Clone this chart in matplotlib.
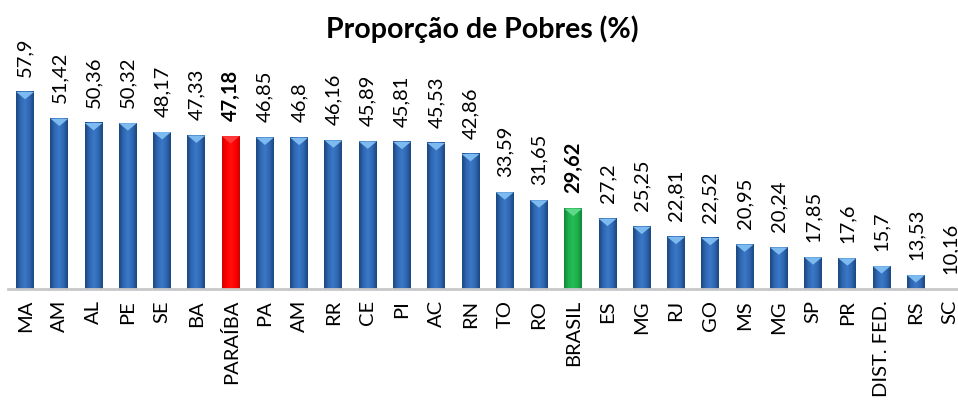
import numpy as np
import matplotlib
matplotlib.use('Agg')
import matplotlib.pyplot as plt
from matplotlib.colors import LinearSegmentedColormap
from matplotlib.patches import Polygon

plt.rcParams['font.family'] = ['Lato', 'DejaVu Sans']

estados = ['MA', 'AM', 'AL', 'PE', 'SE', 'BA', 'PARAÍBA', 'PA', 'AM', 'RR', 'CE', 'PI', 'AC', 'RN',
           'TO', 'RO', 'BRASIL', 'ES', 'MG', 'RJ', 'GO', 'MS', 'MG', 'SP', 'PR', 'DIST. FED.', 'RS', 'SC']
pobres = [57.9, 51.42, 50.36, 50.32, 48.17, 47.33, 47.18, 46.85, 46.8, 46.16, 45.89, 45.81, 45.53, 42.86,
          33.59, 31.65, 29.62, 27.2, 25.25, 22.81, 22.52, 20.95, 20.24, 17.85, 17.6, 15.7, 13.53, 10.16]
rotulos = ['57,9', '51,42', '50,36', '50,32', '48,17', '47,33', '47,18', '46,85', '46,8', '46,16', '45,89',
           '45,81', '45,53', '42,86', '33,59', '31,65', '29,62', '27,2', '25,25', '22,81', '22,52', '20,95',
           '20,24', '17,85', '17,6', '15,7', '13,53', '10,16']
destaque = {'PARAÍBA': 'red', 'BRASIL': 'green'}

ymin = min(pobres)
ymax = 75.3
w = 0.525

# gradients: dark edge - light centre - dark edge
cmaps = {
    'blue': LinearSegmentedColormap.from_list('b', ['#1b4680', '#2f68b3', '#3a78c6', '#2f68b3', '#1b4680']),
    'red': LinearSegmentedColormap.from_list('r', ['#d00000', '#ff0000', '#ff1010', '#ff0000', '#d00000']),
    'green': LinearSegmentedColormap.from_list('g', ['#12863a', '#1fb04c', '#25bd55', '#1fb04c', '#12863a']),
}
tops = {'blue': '#7cbaf0', 'red': '#ff3a3a', 'green': '#5fd88a'}
grad = np.linspace(0, 1, 64).reshape(1, -1)

fig = plt.figure(figsize=(9.58, 4.01), dpi=100)
ax = fig.add_axes([8 / 958, 112 / 401, 950 / 958, 269 / 401])

x = np.arange(len(pobres))
for i, (e, v) in enumerate(zip(estados, pobres)):
    c = destaque.get(e, 'blue')
    if v > ymin:
        ax.imshow(grad, cmap=cmaps[c], aspect='auto', interpolation='bilinear',
                  extent=(i - w / 2, i + w / 2, ymin, v), zorder=2)
        d = min(1.8, (v - ymin) * 0.6)
        ax.add_patch(Polygon([(i - w / 2, v), (i + w / 2, v), (i, v - d)], closed=True,
                             facecolor=tops[c], edgecolor='none', zorder=3))
    bold = e in destaque
    ax.annotate(rotulos[i], (i, v), xytext=(0, 11), textcoords='offset points',
                rotation=90, ha='center', va='bottom', fontsize=14.5,
                fontweight='bold' if bold else 'normal', color='black')

ax.set_xlim(-0.5, 27.23)
ax.set_ylim(ymin, ymax)
ax.set_xticks(x)
ax.set_xticklabels(estados, rotation=90, fontsize=14.5)
ax.tick_params(axis='x', length=0, pad=8)
ax.set_yticks([])
for s in ['top', 'right', 'left']:
    ax.spines[s].set_visible(False)
ax.spines['bottom'].set_color('#c8c8c8')
ax.spines['bottom'].set_linewidth(2)
ax.patch.set_visible(False)

fig.text(0.503, 1 - 38 / 401, 'Proporção de Pobres (%)', ha='center', va='baseline',
         fontsize=20.5, fontweight='bold')

fig.savefig('out.png', dpi=100)
